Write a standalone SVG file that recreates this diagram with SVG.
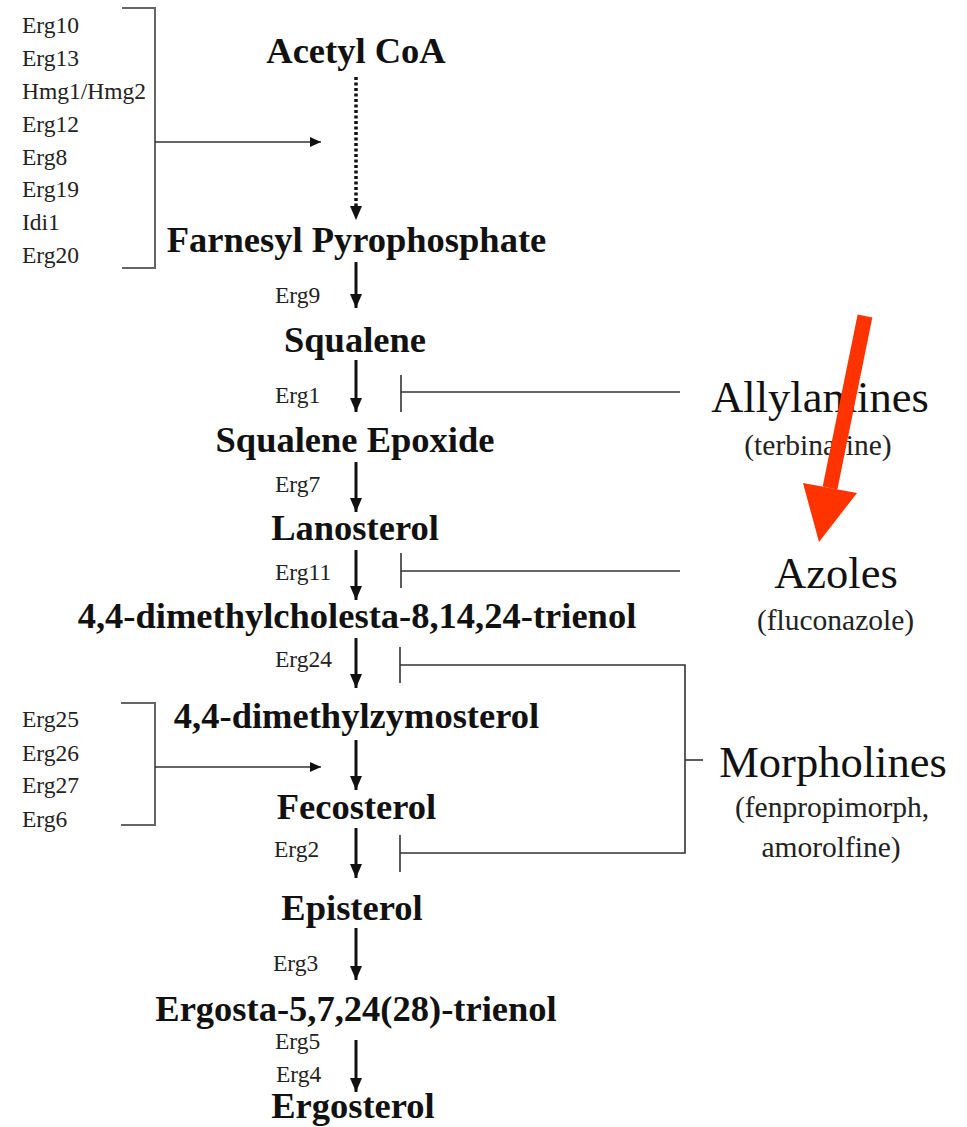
<svg xmlns="http://www.w3.org/2000/svg" width="967" height="1127" viewBox="0 0 967 1127">
<style>
.cpd{font-family:"Liberation Serif",serif;font-weight:bold;font-size:36.5px;fill:#111;text-anchor:middle}
.enz{font-family:"Liberation Serif",serif;font-size:23.5px;fill:#222}
.drug{font-family:"Liberation Serif",serif;font-size:44.5px;fill:#111;text-anchor:middle}
.sub{font-family:"Liberation Serif",serif;font-size:29.5px;fill:#222;text-anchor:middle}
.main{stroke:#111;stroke-width:3;fill:none}
.thin{stroke:#333;stroke-width:1.6;fill:none}
.brk{stroke:#666;stroke-width:2;fill:none}
</style>
<defs>
<marker id="ah" markerUnits="userSpaceOnUse" markerWidth="14" markerHeight="12" refX="14" refY="6" orient="auto" viewBox="0 0 14 12">
<path d="M0,0 L14,6 L0,12 Z" fill="#111"/>
</marker>
<marker id="ahs" markerUnits="userSpaceOnUse" markerWidth="11" markerHeight="10" refX="11" refY="5" orient="auto" viewBox="0 0 11 10">
<path d="M0,0 L11,5 L0,10 Z" fill="#111"/>
</marker>
</defs>

<g id="n-acetyl"><text class="cpd" x="356" y="63">Acetyl CoA</text></g>
<g id="n-farnesyl"><text class="cpd" x="356.5" y="252">Farnesyl Pyrophosphate</text></g>
<g id="n-squalene"><text class="cpd" x="355" y="352">Squalene</text></g>
<g id="n-epoxide"><text class="cpd" x="355" y="452">Squalene Epoxide</text></g>
<g id="n-lanosterol"><text class="cpd" x="355" y="540">Lanosterol</text></g>
<g id="n-cholesta"><text class="cpd" x="357" y="628">4,4-dimethylcholesta-8,14,24-trienol</text></g>
<g id="n-zymosterol"><text class="cpd" x="356.5" y="728">4,4-dimethylzymosterol</text></g>
<g id="n-fecosterol"><text class="cpd" x="356.5" y="819">Fecosterol</text></g>
<g id="n-episterol"><text class="cpd" x="352" y="920">Episterol</text></g>
<g id="n-ergosta"><text class="cpd" x="356" y="1021">Ergosta-5,7,24(28)-trienol</text></g>
<g id="n-ergosterol"><text class="cpd" x="353" y="1118">Ergosterol</text></g>

<g id="enz-top">
<text class="enz" x="22" y="33">Erg10</text>
<text class="enz" x="22" y="66">Erg13</text>
<text class="enz" x="22" y="99">Hmg1/Hmg2</text>
<text class="enz" x="22" y="132">Erg12</text>
<text class="enz" x="22" y="165">Erg8</text>
<text class="enz" x="22" y="197">Erg19</text>
<text class="enz" x="22" y="230">Idi1</text>
<text class="enz" x="22" y="263">Erg20</text>
</g>
<g id="enz-mid">
<text class="enz" x="22" y="727">Erg25</text>
<text class="enz" x="22" y="761">Erg26</text>
<text class="enz" x="22" y="793">Erg27</text>
<text class="enz" x="22" y="827">Erg6</text>
</g>
<g id="enz-steps">
<text class="enz" x="275" y="303">Erg9</text>
<text class="enz" x="275" y="403">Erg1</text>
<text class="enz" x="275" y="492">Erg7</text>
<text class="enz" x="275" y="580">Erg11</text>
<text class="enz" x="275" y="667">Erg24</text>
<text class="enz" x="274" y="857">Erg2</text>
<text class="enz" x="273" y="971">Erg3</text>
<text class="enz" x="275" y="1049">Erg5</text>
<text class="enz" x="276" y="1082">Erg4</text>
</g>

<g id="drug-allylamines">
<text class="drug" x="820" y="412">Allylamines</text>
<text class="sub" x="818" y="455">(terbinafine)</text>
</g>
<g id="drug-azoles">
<text class="drug" x="836" y="588">Azoles</text>
<text class="sub" x="835.5" y="630">(fluconazole)</text>
</g>
<g id="drug-morpholines">
<text class="drug" x="833" y="777">Morpholines</text>
<text class="sub" x="832" y="817">(fenpropimorph,</text>
<text class="sub" x="831" y="857">amorolfine)</text>
</g>

<g id="connectors">
<line x1="356" y1="77" x2="356" y2="208" stroke="#111" stroke-width="3.5" stroke-dasharray="3 2.5"/>
<line x1="356" y1="206" x2="356" y2="220" stroke="#111" stroke-width="0.1" marker-end="url(#ah)"/>
<line class="main" x1="356" y1="262" x2="356" y2="308" marker-end="url(#ah)"/>
<line class="main" x1="356" y1="360" x2="356" y2="412" marker-end="url(#ah)"/>
<line class="main" x1="356" y1="462" x2="356" y2="512" marker-end="url(#ah)"/>
<line class="main" x1="356" y1="550" x2="356" y2="600" marker-end="url(#ah)"/>
<line class="main" x1="356" y1="638" x2="356" y2="688" marker-end="url(#ah)"/>
<line class="main" x1="356" y1="740" x2="356" y2="790" marker-end="url(#ah)"/>
<line class="main" x1="356" y1="828" x2="356" y2="878" marker-end="url(#ah)"/>
<line class="main" x1="356" y1="928" x2="356" y2="980" marker-end="url(#ah)"/>
<line class="main" x1="356" y1="1040" x2="356" y2="1092" marker-end="url(#ah)"/>
<path class="brk" d="M122,8 H155 V268 H122"/>
<line class="thin" x1="155" y1="142" x2="321" y2="142" marker-end="url(#ahs)"/>
<path class="brk" d="M121,703 H155 V825 H121"/>
<line class="thin" x1="155" y1="767" x2="321" y2="767" marker-end="url(#ahs)"/>
<line class="thin" x1="401" y1="375" x2="401" y2="412"/>
<line class="thin" x1="401" y1="392" x2="680" y2="392"/>
<line class="thin" x1="401" y1="553" x2="401" y2="588"/>
<line class="thin" x1="401" y1="571" x2="680" y2="571"/>
<line class="thin" x1="400" y1="647" x2="400" y2="683"/>
<line class="thin" x1="400" y1="835" x2="400" y2="872"/>
<path class="thin" d="M400,665 H685 V853 H400"/>
<line class="thin" x1="685" y1="760" x2="703" y2="760"/>
</g>

<g id="red-arrow">
<line x1="865" y1="316" x2="830" y2="488" stroke="#ff3300" stroke-width="15"/>
<path d="M803,483 L857,493 L819,542 Z" fill="#ff3300"/>
</g>
</svg>
